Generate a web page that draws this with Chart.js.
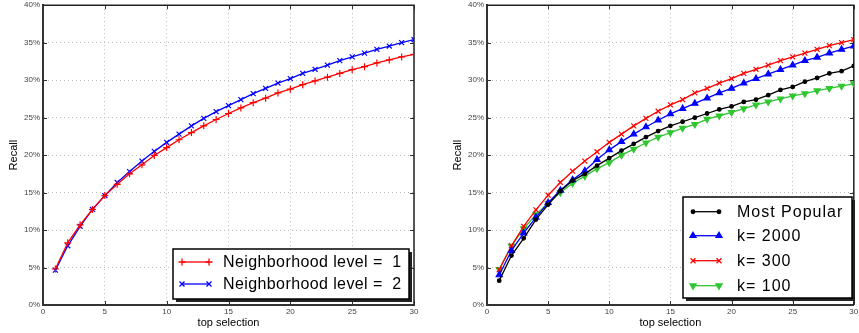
<!DOCTYPE html>
<html>
<head>
<meta charset="utf-8">
<script src="https://cdn.jsdelivr.net/npm/chart.js@4.4.0/dist/chart.umd.min.js"></script>
<style>
  body { margin: 0; background: #fff; }
  canvas { position: absolute; top: 0; }
</style>
</head>
<body>
<canvas id="left-chart" width="430" height="333" style="left:0"></canvas>
<canvas id="right-chart" width="415" height="333" style="left:444px"></canvas>
<script>
// x 값: top selection 1..30
const topSelection = [1, 2, 3, 4, 5, 6, 7, 8, 9, 10, 11, 12, 13, 14, 15, 16, 17, 18, 19, 20, 21, 22, 23, 24, 25, 26, 27, 28, 29, 30];
const xTicks = [0, 5, 10, 15, 20, 25, 30];
const yTicks = [0, 5, 10, 15, 20, 25, 30, 35, 40];

// 왼쪽 그래프 (Recall, %)
const neighborhood1 = [4.8, 8.3, 10.7, 12.75, 14.6, 16.1, 17.5, 18.7, 19.95, 21.0, 22.05, 23.0, 23.9, 24.75, 25.55, 26.3, 27.0, 27.6, 28.3, 28.8, 29.4, 29.9, 30.4, 30.9, 31.4, 31.8, 32.3, 32.7, 33.1, 33.45];
const neighborhood2 = [4.65, 7.9, 10.5, 12.75, 14.6, 16.35, 17.8, 19.2, 20.5, 21.7, 22.8, 23.9, 24.9, 25.8, 26.6, 27.4, 28.2, 28.9, 29.6, 30.2, 30.9, 31.45, 32.0, 32.6, 33.1, 33.6, 34.1, 34.55, 35.0, 35.4];

// 오른쪽 그래프 (Recall, %)
const mostPopular = [3.25, 6.6, 8.9, 11.4, 13.4, 15.2, 16.6, 17.5, 18.6, 19.6, 20.6, 21.5, 22.4, 23.2, 23.9, 24.45, 25.0, 25.55, 26.1, 26.5, 27.1, 27.4, 28.0, 28.7, 29.1, 29.8, 30.3, 30.9, 31.2, 31.9];
const k2000 = [4.0, 7.25, 9.6, 11.7, 13.65, 15.3, 16.7, 17.9, 19.4, 20.7, 21.8, 22.8, 23.75, 24.65, 25.5, 26.2, 26.9, 27.6, 28.3, 28.9, 29.6, 30.2, 30.8, 31.4, 32.0, 32.6, 33.05, 33.6, 34.1, 34.55];
const k300 = [4.7, 7.9, 10.5, 12.7, 14.65, 16.35, 17.85, 19.2, 20.45, 21.7, 22.8, 23.9, 24.9, 25.85, 26.7, 27.4, 28.3, 28.9, 29.6, 30.2, 30.9, 31.45, 32.0, 32.6, 33.1, 33.6, 34.1, 34.6, 35.0, 35.4];
const k100 = [4.75, 7.85, 10.2, 12.05, 13.6, 15.0, 16.25, 17.2, 18.2, 19.0, 20.0, 20.8, 21.65, 22.4, 23.0, 23.6, 24.1, 24.8, 25.25, 25.7, 26.2, 26.7, 27.1, 27.5, 27.9, 28.2, 28.6, 28.9, 29.2, 29.55];

const FONT = '"Liberation Sans", Arial, Helvetica, sans-serif';
const GREEN = '#2fc62f';

function toPoints(values) {
  return values.map((v, i) => ({ x: topSelection[i], y: v }));
}

function series(label, values, color, style, radius, rotation) {
  return {
    label,
    data: toPoints(values),
    borderColor: color,
    backgroundColor: color,
    borderWidth: 1.3,
    pointStyle: style,
    pointRadius: radius,
    pointRotation: rotation || 0,
    pointBorderWidth: 1.2,
    pointBackgroundColor: color,
    pointBorderColor: color,
    tension: 0,
    fill: false,
  };
}

/**
 * 안쪽 눈금 + 위/오른쪽 테두리
 */
const framePlugin = {
  id: 'frame',
  beforeDatasetsDraw(chart) {
    const { ctx, chartArea: a, scales } = chart;
    ctx.save();
    ctx.strokeStyle = '#333';
    ctx.lineWidth = 1;
    ctx.beginPath();
    xTicks.forEach((t) => {
      const px = Math.round(scales.x.getPixelForValue(t)) + 0.5;
      ctx.moveTo(px, a.top); ctx.lineTo(px, a.top + 4);
      ctx.moveTo(px, a.bottom); ctx.lineTo(px, a.bottom - 4);
    });
    yTicks.forEach((t) => {
      const py = Math.round(scales.y.getPixelForValue(t)) + 0.5;
      ctx.moveTo(a.left, py); ctx.lineTo(a.left + 4, py);
      ctx.moveTo(a.right, py); ctx.lineTo(a.right - 4, py);
    });
    ctx.stroke();
    ctx.lineWidth = 1.5;
    ctx.strokeStyle = '#222';
    ctx.beginPath();
    ctx.moveTo(a.left, a.top); ctx.lineTo(a.right, a.top); ctx.lineTo(a.right, a.bottom);
    ctx.stroke();
    ctx.restore();
  },
};

/**
 * 그래프 안쪽 범례 (그림자 박스)
 */
const boxLegendPlugin = {
  id: 'boxLegend',
  afterDraw(chart, args, opts) {
    const { ctx } = chart;
    const b = opts.box;
    ctx.save();
    ctx.fillStyle = '#222';
    ctx.fillRect(b.x + 3, b.y + 3, b.w, b.h);
    ctx.fillStyle = '#fff';
    ctx.fillRect(b.x, b.y, b.w, b.h);
    ctx.strokeStyle = '#000';
    ctx.lineWidth = 1.5;
    ctx.strokeRect(b.x, b.y, b.w, b.h);

    ctx.font = '16px ' + FONT;
    ctx.letterSpacing = opts.spacing;
    ctx.textBaseline = 'middle';
    ctx.textAlign = 'left';
    chart.data.datasets.forEach((ds, i) => {
      const y = opts.rows[i];
      ctx.strokeStyle = ds.borderColor;
      ctx.fillStyle = ds.borderColor;
      ctx.lineWidth = ds.borderWidth;
      ctx.beginPath();
      ctx.moveTo(opts.x0, y); ctx.lineTo(opts.x1, y);
      ctx.stroke();
      [opts.x0, opts.x1].forEach((px) => {
        Chart.helpers.drawPoint(ctx, {
          pointStyle: ds.pointStyle,
          radius: ds.pointRadius,
          rotation: ds.pointRotation,
          borderWidth: ds.pointBorderWidth,
        }, px, y);
      });
      ctx.fillStyle = '#000';
      ctx.fillText(ds.label, opts.textX, y + 1);
    });
    ctx.restore();
  },
};

function makeOptions(padRight, legend) {
  return {
    responsive: false,
    animation: false,
    layout: { padding: { top: 4, right: padRight, left: 0, bottom: 0 } },
    plugins: {
      legend: { display: false },
      tooltip: { enabled: false },
      boxLegend: legend,
    },
    scales: {
      x: {
        type: 'linear',
        min: 0,
        max: 30,
        afterFit: (s) => { s.height = 28; s.paddingLeft = 0; s.paddingRight = 0; },
        afterBuildTicks: (s) => { s.ticks = xTicks.map((v) => ({ value: v })); },
        ticks: { font: { family: FONT, size: 8 }, color: '#444', padding: 2, maxRotation: 0 },
        grid: { color: '#bbb', lineWidth: 1, drawTicks: false },
        border: { color: '#333', width: 2, dash: [1, 3] },
        title: { display: true, text: 'top selection', font: { family: FONT, size: 11 }, color: '#000', padding: { top: 0, bottom: 3 } },
      },
      y: {
        min: 0,
        max: 40,
        afterFit: (s) => { s.width = 43; s.paddingTop = 0; s.paddingBottom = 0; },
        afterBuildTicks: (s) => { s.ticks = yTicks.map((v) => ({ value: v })); },
        ticks: { font: { family: FONT, size: 8 }, color: '#444', padding: 3, callback: (v) => v + '%' },
        grid: { color: '#bbb', lineWidth: 1, drawTicks: false },
        border: { color: '#333', width: 2, dash: [1, 3] },
        title: { display: true, text: 'Recall', font: { family: FONT, size: 11 }, color: '#000', padding: { top: 7, bottom: 0 } },
      },
    },
  };
}

new Chart(document.getElementById('left-chart'), {
  type: 'line',
  data: {
    datasets: [
      series('Neighborhood level =  1', neighborhood1, '#ff0000', 'cross', 3.5),
      series('Neighborhood level =  2', neighborhood2, '#0000ff', 'crossRot', 3.5),
    ],
  },
  options: makeOptions(16, {
    box: { x: 173, y: 249, w: 236, h: 50 },
    rows: [262, 284],
    x0: 182, x1: 209, textX: 223, spacing: '0.4px',
  }),
  plugins: [framePlugin, boxLegendPlugin],
});

new Chart(document.getElementById('right-chart'), {
  type: 'line',
  data: {
    datasets: [
      series('Most Popular', mostPopular, '#000000', 'circle', 1.8),
      series('k= 2000', k2000, '#0000ff', 'triangle', 3.5),
      series('k= 300', k300, '#ff0000', 'crossRot', 3.5),
      series('k= 100', k100, GREEN, 'triangle', 3.5, 180),
    ],
  },
  options: makeOptions(2, {
    box: { x: 239, y: 197, w: 169, h: 101 },
    rows: [211.7, 235.7, 260.7, 285.7],
    x0: 249, x1: 275, textX: 293, spacing: '1px',
  }),
  plugins: [framePlugin, boxLegendPlugin],
});
</script>
</body>
</html>
